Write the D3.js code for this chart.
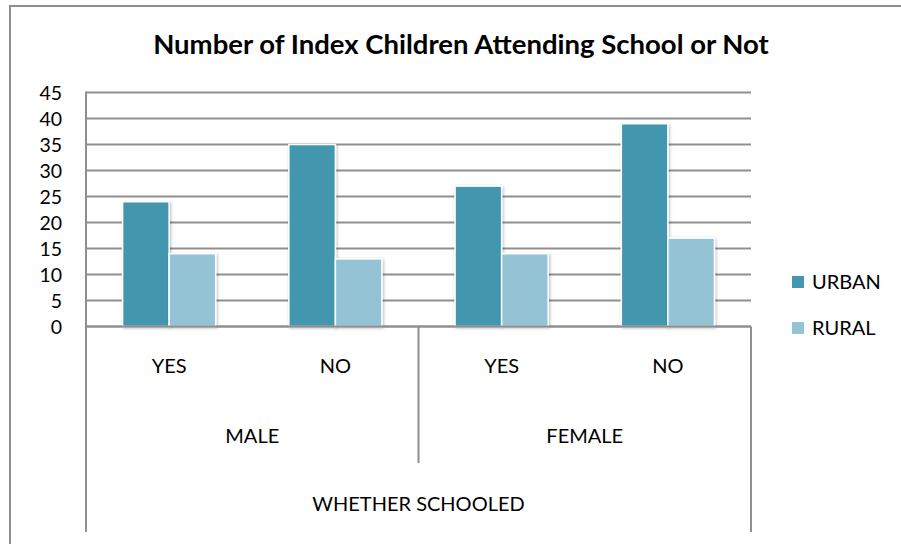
<!DOCTYPE html>
<html>
<head>
<meta charset="utf-8">
<script src="https://cdn.jsdelivr.net/npm/d3@7"></script>
<style>
  html, body { margin: 0; padding: 0; background: #fff; }
  svg { display: block; }
  text { font-family: Lato, "Open Sans", sans-serif; fill: #000; }
</style>
</head>
<body>
<svg id="chart" width="901" height="544"></svg>
<script>
// Data
const title = "Number of Index Children Attending School or Not";
const genders = ["MALE", "FEMALE"];
const answers = ["YES", "NO"];
const seriesNames = ["URBAN", "RURAL"];
const urbanValues = [24, 35, 27, 39];
const ruralValues = [14, 13, 14, 17];
const yTicks = [0, 5, 10, 15, 20, 25, 30, 35, 40, 45];
const axisTitle = "WHETHER SCHOOLED";
const colors = ["#4397ae", "#93c3d4"];

// Categories built from the gender × answer combinations
const categories = [];
genders.forEach(g => answers.forEach(a => categories.push(g + "|" + a)));
const rows = categories.map((c, i) => ({ key: c, values: [urbanValues[i], ruralValues[i]] }));

const svg = d3.select("#chart");
const gridColor = "#8f8f8f";

const plotLeft = 86, plotRight = 751, plotTop = 92.5, plotBottom = 326.5, axisBottom = 532, midBottom = 463;

const x0 = d3.scaleBand().domain(categories).range([plotLeft, plotRight]).paddingInner(0.44).paddingOuter(0.22);
const x1 = d3.scaleBand().domain(seriesNames).range([0, x0.bandwidth()]).padding(0);
const y = d3.scaleLinear().domain([0, 45]).range([plotBottom, plotTop]);

// Drop shadow for bars
const defs = svg.append("defs");
const f = defs.append("filter").attr("id", "shadow").attr("x", "-20%").attr("y", "-20%").attr("width", "140%").attr("height", "140%");
f.append("feDropShadow").attr("dx", 1).attr("dy", 1).attr("stdDeviation", 1.8)
  .attr("flood-color", "#000").attr("flood-opacity", 0.28);

// Outer chart border (left and top)
svg.append("path").attr("d", "M10,544 L10,6 L901,6")
  .attr("fill", "none").attr("stroke", gridColor).attr("stroke-width", 2);

// Title
svg.append("text").attr("x", 461).attr("y", 54).attr("text-anchor", "middle")
  .attr("font-weight", "bold").attr("font-size", 27.5).text(title);

// Horizontal gridlines
svg.append("g").selectAll("line").data(yTicks).join("line")
  .attr("x1", plotLeft).attr("x2", plotRight)
  .attr("y1", d => y(d)).attr("y2", d => y(d))
  .attr("stroke", gridColor).attr("stroke-width", 2);

// Y-axis line
svg.append("line").attr("x1", plotLeft).attr("x2", plotLeft).attr("y1", plotTop - 1).attr("y2", axisBottom)
  .attr("stroke", gridColor).attr("stroke-width", 2);

// Y tick labels
svg.append("g").selectAll("text").data(yTicks).join("text")
  .attr("x", 62).attr("y", d => y(d)).attr("dy", "0.36em")
  .attr("text-anchor", "end").attr("font-size", 19.5).text(d => d);

// Bars
const groups = svg.append("g").selectAll("g").data(rows).join("g")
  .attr("transform", d => `translate(${x0(d.key)},0)`);
groups.selectAll("rect").data(d => d.values.map((v, i) => ({ s: seriesNames[i], v, i }))).join("rect")
  .attr("x", d => x1(d.s)).attr("width", x1.bandwidth())
  .attr("y", d => y(d.v)).attr("height", d => y(0) - y(d.v))
  .attr("fill", d => colors[d.i]).attr("stroke", "#fff").attr("stroke-width", 1.5)
  .attr("filter", "url(#shadow)");

// Baseline redrawn over bars
svg.append("line").attr("x1", plotLeft).attr("x2", plotRight).attr("y1", y(0)).attr("y2", y(0))
  .attr("stroke", gridColor).attr("stroke-width", 2);

// Category axis box dividers
const genderScale = d3.scaleBand().domain(genders).range([plotLeft, plotRight]);
svg.append("line").attr("x1", plotRight).attr("x2", plotRight).attr("y1", y(0)).attr("y2", axisBottom)
  .attr("stroke", gridColor).attr("stroke-width", 2);
svg.append("line").attr("x1", genderScale("FEMALE")).attr("x2", genderScale("FEMALE"))
  .attr("y1", y(0)).attr("y2", midBottom)
  .attr("stroke", gridColor).attr("stroke-width", 2);

// Answer labels
svg.append("g").selectAll("text").data(categories).join("text")
  .attr("x", d => x0(d) + x0.bandwidth() / 2).attr("y", 373)
  .attr("text-anchor", "middle").attr("font-size", 20).text(d => d.split("|")[1]);

// Gender labels
svg.append("g").selectAll("text").data(genders).join("text")
  .attr("x", d => genderScale(d) + genderScale.bandwidth() / 2).attr("y", 442.5)
  .attr("text-anchor", "middle").attr("font-size", 20).text(d => d);

// Axis title
svg.append("text").attr("x", (plotLeft + plotRight) / 2).attr("y", 511)
  .attr("text-anchor", "middle").attr("font-size", 20).text(axisTitle);

// Legend
const legend = svg.append("g").selectAll("g").data(seriesNames).join("g")
  .attr("transform", (d, i) => `translate(792,${276 + i * 46})`);
legend.append("rect").attr("width", 12).attr("height", 12).attr("fill", (d, i) => colors[i]);
legend.append("text").attr("x", 20).attr("y", 12.5).attr("font-size", 20).text(d => d);
</script>
</body>
</html>
